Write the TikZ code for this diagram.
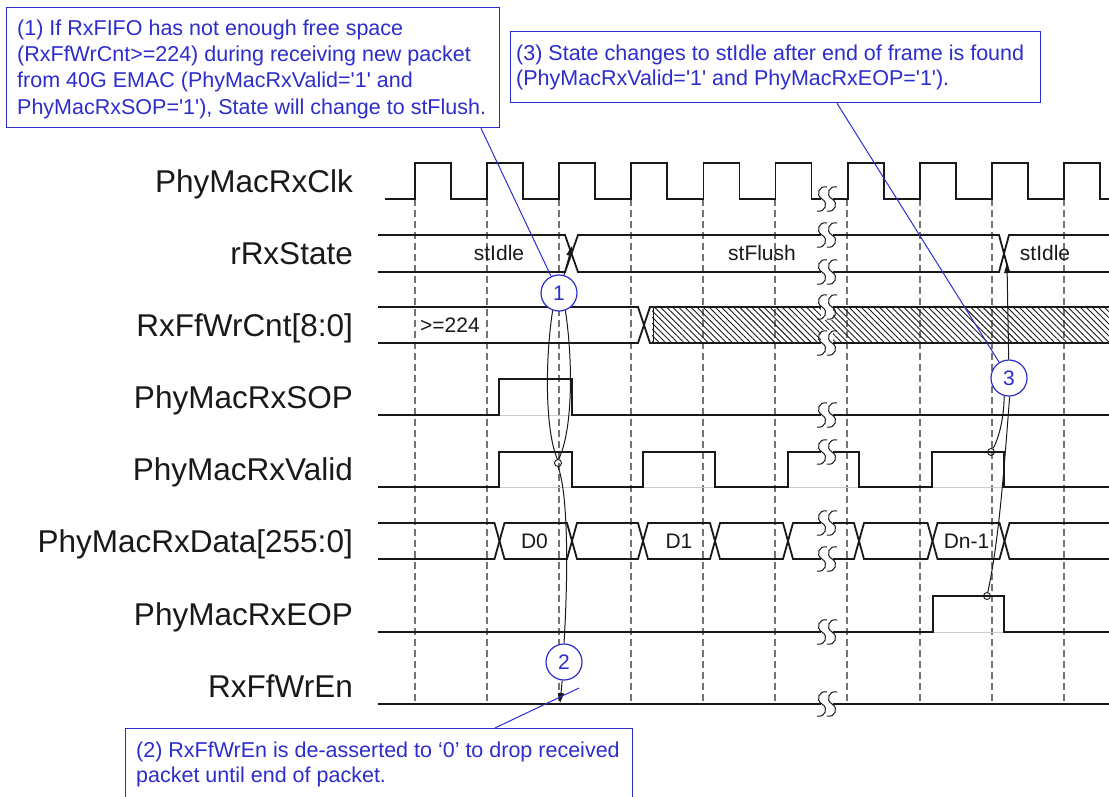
\documentclass[tikz,border=0pt]{standalone}
\usepackage{fontspec}
\setmainfont{Liberation Sans}[Ligatures=TeXOff]
\usetikzlibrary{arrows.meta,patterns.meta}
\definecolor{cblue}{RGB}{45,45,205}
\definecolor{ink}{RGB}{25,25,25}
\begin{document}
\begin{tikzpicture}[x=1pt,y=-1pt,
  sig/.style={line width=1.8pt, draw=ink, line join=miter},
  ghost/.style={line width=0.8pt, draw=black!20},
  gridline/.style={line width=1.1pt, draw=black!55, dash pattern=on 7pt off 4pt},
  lbl/.style={font=\fontsize{31.5}{36}\selectfont, text=ink, anchor=base east, inner sep=0pt},
  val/.style={font=\fontsize{21}{24}\selectfont, text=ink, anchor=base, inner sep=0pt},
  callbox/.style={draw=cblue, line width=1.3pt, fill=white, anchor=north west, inner sep=0pt},
  ctext/.style={font=\fontsize{21.5}{26.3}\selectfont, text=cblue, align=left, anchor=north west, inner sep=0pt},
  num/.style={circle, draw=cblue, line width=1.2pt, fill=white, minimum size=36pt, inner sep=0pt, text=cblue, font=\fontsize{21}{24}\selectfont},
  lead/.style={draw=cblue, line width=1pt},
  ann/.style={draw=ink, line width=1pt},
  tip/.style={ann, -{Triangle[length=10pt,width=6pt]}},
  dot/.style={circle, draw=ink, line width=0.9pt, minimum size=7pt, inner sep=0pt},
  brk/.pic={
    \fill[white] (-6,-13) rectangle (6,13);
    \foreach \d in {-5,5}{
      \draw[ink, line width=1pt] (\d+5,-12) .. controls (\d-3,-14) and (\d-7,-4) .. (\d,0)
        .. controls (\d+7,4) and (\d+3,14) .. (\d-5,12);}
  }]
\useasboundingbox (0,0) rectangle (1109,796);
\clip (0,0) rectangle (1109,796);

% grid
\foreach \x in {415,487,559,631,703,775,847,920,992,1064}
  \draw[gridline] (\x,199) -- (\x,704);

% ghost low levels
\draw[ghost] (378,415) -- (1109,415);
\draw[ghost] (378,487) -- (1109,487);
\draw[ghost] (378,632) -- (1109,632);

% clock
\draw[sig] (385,199) foreach \k in {0,...,9} { -- ({415+72.1*\k},199) -- ({415+72.1*\k},163) -- ({451+72.1*\k},163) -- ({451+72.1*\k},199) } -- (1109,199);

% state bus
\draw[sig] (378,235) -- (565,235) -- (578,272) -- (999,272) -- (1009,235) -- (1109,235);
\draw[sig] (378,272) -- (565,272) -- (578,235) -- (999,235) -- (1009,272) -- (1109,272);

% count bus
\fill[pattern={Lines[angle=-45,distance=4.3pt,line width=0.9pt]}, pattern color=ink] (652,307) rectangle (1109,343);
\draw[ink, line width=1pt] (653,307) -- (653,343);
\draw[sig] (378,307) -- (638,307) -- (650,343) -- (1109,343);
\draw[sig] (378,343) -- (638,343) -- (650,307) -- (1109,307);

% SOP
\draw[sig] (378,415) -- (499,415) -- (499,379) -- (572,379) -- (572,415) -- (1109,415);

% Valid
\draw[sig] (378,487) -- (499,487) -- (499,452) -- (572,452) -- (572,487) -- (643,487) -- (643,452) -- (715,452) -- (715,487) -- (788,487) -- (788,452) -- (859,452) -- (859,487) -- (932,487) -- (932,452) -- (1004,452) -- (1004,487) -- (1109,487);

% Data bus
\draw[sig] (378,523) -- (494.5,523) -- (504.5,559) -- (567,559) -- (577,523) -- (638,523) -- (648,559) -- (710,559) -- (720,523) -- (783,523) -- (793,559) -- (854,559) -- (864,523) -- (927.5,523) -- (937.5,559) -- (999.5,559) -- (1009.5,523) -- (1109,523);
\draw[sig] (378,559) -- (494.5,559) -- (504.5,523) -- (567,523) -- (577,559) -- (638,559) -- (648,523) -- (710,523) -- (720,559) -- (783,559) -- (793,523) -- (854,523) -- (864,559) -- (927.5,559) -- (937.5,523) -- (999.5,523) -- (1009.5,559) -- (1109,559);

% EOP
\draw[sig] (378,632) -- (933,632) -- (933,596) -- (1004,596) -- (1004,632) -- (1109,632);

% WrEn
\draw[sig] (378,704) -- (1109,704);

% breaks
\foreach \yy in {199,235,272,307,343,415,452,523,559,632,704}
  \pic at (827,\yy) {brk};

% signal names
\node[lbl] (lclk) at (353,192.3) {PhyMacRxClk};
\node[lbl] (lstate) at (353,264.3) {rRxState};
\node[lbl] (lcnt) at (353,336.3) {RxFfWrCnt[8:0]};
\node[lbl] (lsop) at (353,408.3) {PhyMacRxSOP};
\node[lbl] (lvalid) at (353,480.8) {PhyMacRxValid};
\node[lbl] (ldata) at (353,552.3) {PhyMacRxData[255:0]};
\node[lbl] (leop) at (353,625.3) {PhyMacRxEOP};
\node[lbl] (lwren) at (353,697.3) {RxFfWrEn};

% values
\node[val] (vidle1) at (499,260.5) {stIdle};
\node[val] (vflush) at (762,260.5) {stFlush};
\node[val] (vidle2) at (1045,260.5) {stIdle};
\node[val, anchor=base west] (vcnt) at (420,332) {>=224};
\node[val] (vd0) at (534.5,548.5) {D0};
\node[val] (vd1) at (679,548.5) {D1};
\node[val] (vdn) at (966.5,548.5) {Dn-1};

% annotation marks
\node[dot] (d1) at (558,463) {};
\node[dot] (d3a) at (991,452) {};
\node[dot] (d3b) at (987,596) {};
\coordinate (x1) at (572,246);
\coordinate (x3) at (1007,263);
\coordinate (en) at (560,703);
\coordinate (e2) at (579,688);

\node[num] (c1) at (559,293) {1};
\node[num] (c2) at (564,662) {2};
\node[num] (c3) at (1009,378) {3};

\draw[ann] (c1.250) .. controls (545,360) and (545,430) .. (d1.100);
\draw[ann] (c1.290) .. controls (573,360) and (573,430) .. (d1.80);
\draw[tip] (c1) -- (x1);
\draw[ann] (d1.south) .. controls (567,490) and (569,560) .. (c2.north);
\draw[tip] (c2) -- (en);

\draw[tip] (c3) -- (x3);
\draw[ann] (c3.255) .. controls (1004,420) and (998,440) .. (d3a);
\draw[ann] (c3.272) .. controls (1004,470) and (999,540) .. (d3b);

% callouts
\node[callbox, minimum width=493pt, minimum height=120pt] (box1) at (6,7) {};
\node[ctext] (t1) at (17,19.4) {(1) If RxFIFO has not enough free space\\(RxFfWrCnt>=224) during receiving new packet\\from 40G EMAC (PhyMacRxValid='1' and\\PhyMacRxSOP='1'), State will change to stFlush.};

\node[callbox, minimum width=530pt, minimum height=71pt] (box3) at (510,31) {};
\node[ctext, font=\fontsize{21.5}{25}\selectfont] (t3) at (516,44.4) {(3) State changes to stIdle after end of frame is found\\(PhyMacRxValid='1' and PhyMacRxEOP='1').};

\node[callbox, minimum width=507pt, minimum height=70pt] (box2) at (125,728) {};
\node[ctext, font=\fontsize{21.5}{25}\selectfont] (t2) at (136,741.9) {(2) RxFfWrEn is de-asserted to ‘0’ to drop received\\packet until end of packet.};

\draw[lead] (box1.south west) ++(475,0) -- (c1);
\draw[lead] (box3.south west) ++(327,0) -- (c3);
\draw[lead] (box2.north west) ++(370,0) -- (e2);
\end{tikzpicture}
\end{document}
